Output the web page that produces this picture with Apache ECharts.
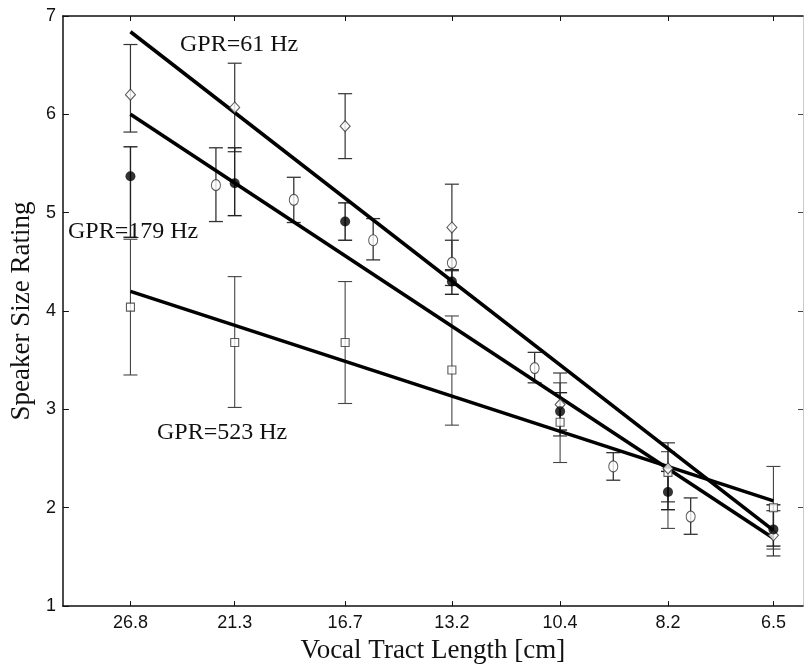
<!DOCTYPE html>
<html>
<head>
<meta charset="utf-8">
<script src="https://cdn.jsdelivr.net/npm/echarts@6/dist/echarts.min.js"></script>
<style>html,body{margin:0;padding:0;background:#fff}#c{width:804px;height:669px}</style>
</head>
<body>
<div id="c"></div>
<script>
// Tick positions / labels (vocal tract length, cm) — log-spaced axis
const vtlTicks = [26.8, 21.3, 16.7, 13.2, 10.4, 8.2, 6.5];
const vtlLabels = ['26.8', '21.3', '16.7', '13.2', '10.4', '8.2', '6.5'];
const vtlRange = [31.1, 6.09];
const yTicks = [1, 2, 3, 4, 5, 6, 7];

// GPR = 61 Hz (open diamonds)
const gpr61 = [6.20, 6.07, 5.88, 4.85, 3.05, 2.40, 1.72];
const gpr61Hi = [6.71, 6.52, 6.21, 5.29, 3.37, 2.66, 1.97];
const gpr61Lo = [5.82, 5.62, 5.55, 4.41, 2.73, 2.06, 1.51];
// GPR = 179 Hz (filled circles)
const gpr179 = [5.37, 5.30, 4.91, 4.30, 2.98, 2.16, 1.78];
const gpr179Hi = [5.67, 5.66, 5.10, 4.42, 3.17, 2.37, 2.03];
const gpr179Lo = [4.75, 4.97, 4.72, 4.17, 2.79, 1.98, 1.61];
// GPR = 523 Hz (open squares)
const gpr523 = [4.04, 3.68, 3.68, 3.40, 2.87, 2.36, 2.00];
const gpr523Hi = [4.73, 4.35, 4.30, 3.95, 3.27, 2.57, 2.42];
const gpr523Lo = [3.35, 3.02, 3.06, 2.84, 2.46, 1.79, 1.58];
// Intermediate conditions (open circles)
const vtlOther = [22.2, 18.7, 15.7, 13.2, 11.0, 9.25, 7.8];
const other = [5.28, 5.13, 4.72, 4.49, 3.42, 2.42, 1.91];
const otherHi = [5.66, 5.36, 4.94, 4.72, 3.58, 2.56, 2.10];
const otherLo = [4.91, 4.90, 4.52, 4.26, 3.27, 2.28, 1.73];

// Regression lines (endpoints)
const fitVtl = [26.8, 6.5];
const fit61 = [6.84, 1.77];
const fit179 = [6.00, 1.69];
const fit523 = [4.20, 2.07];

const L = Math.log;
const tickPos = vtlTicks.map(L);

function errSeries(xs, hi, lo, color, width) {
  return {
    type: 'custom',
    silent: true,
    z: 2,
    data: xs.map((v, i) => [L(v), hi[i], lo[i]]),
    renderItem: function (params, api) {
      const x = api.value(0);
      const top = api.coord([x, api.value(1)]);
      const bot = api.coord([x, api.value(2)]);
      const w = 7;
      const st = { stroke: color, lineWidth: width };
      return {
        type: 'group',
        children: [
          { type: 'line', shape: { x1: top[0], y1: top[1], x2: bot[0], y2: bot[1] }, style: st },
          { type: 'line', shape: { x1: top[0] - w, y1: top[1], x2: top[0] + w, y2: top[1] }, style: st },
          { type: 'line', shape: { x1: bot[0] - w, y1: bot[1], x2: bot[0] + w, y2: bot[1] }, style: st }
        ]
      };
    }
  };
}
function pts(xs, ys) { return xs.map((v, i) => [L(v), ys[i]]); }
function fitLine(ys) {
  return {
    type: 'line', z: 4, silent: true, symbol: 'none',
    data: pts(fitVtl, ys),
    lineStyle: { color: '#000', width: 3.6 }
  };
}

const serif = '"Liberation Serif", "Times New Roman", serif';
const sans = '"Liberation Sans", Arial, sans-serif';

const xAxisBase = {
  type: 'value', inverse: true,
  min: L(vtlRange[1]), max: L(vtlRange[0]),
  splitLine: { show: false },
  axisLine: { lineStyle: { color: '#111', width: 1.5 } },
  axisTick: { inside: true, length: 5, customValues: tickPos, lineStyle: { color: '#111', width: 1 } }
};

const chart = echarts.init(document.getElementById('c'), null, { renderer: 'canvas' });
chart.setOption({
  animation: false,
  backgroundColor: '#fff',
  grid: { left: 60, right: 1, top: 16, bottom: 62, containLabel: false },
  xAxis: [
    Object.assign({}, xAxisBase, {
      position: 'bottom',
      name: 'Vocal Tract Length [cm]', nameLocation: 'middle', nameGap: 25,
      nameTextStyle: { fontFamily: serif, fontSize: 27, color: '#111' },
      axisLabel: {
        customValues: tickPos, margin: 8,
        fontFamily: sans, fontSize: 18, color: '#111',
        formatter: function (v) {
          const i = tickPos.findIndex(t => Math.abs(t - v) < 1e-6);
          return i >= 0 ? vtlLabels[i] : '';
        }
      }
    }),
    Object.assign({}, xAxisBase, { position: 'top', axisLabel: { show: false } })
  ],
  yAxis: [
    {
      type: 'value', min: yTicks[0], max: yTicks[yTicks.length - 1], interval: 1,
      position: 'left',
      name: 'Speaker Size Rating', nameLocation: 'middle', nameGap: 23,
      nameTextStyle: { fontFamily: serif, fontSize: 27, color: '#111' },
      splitLine: { show: false },
      axisLine: { lineStyle: { color: '#111', width: 1.5 } },
      axisTick: { inside: true, length: 6, lineStyle: { color: '#111' } },
      axisLabel: { margin: 7, fontFamily: sans, fontSize: 18, color: '#111' }
    },
    {
      type: 'value', min: yTicks[0], max: yTicks[yTicks.length - 1], interval: 1,
      position: 'right',
      splitLine: { show: false },
      axisLine: { lineStyle: { color: '#ccc', width: 1 } },
      axisTick: { inside: true, length: 5, lineStyle: { color: '#444' } },
      axisLabel: { show: false }
    }
  ],
  series: [
    errSeries(vtlTicks, gpr523Hi, gpr523Lo, '#444', 1.1),
    errSeries(vtlTicks, gpr61Hi, gpr61Lo, '#333', 1.2),
    errSeries(vtlOther, otherHi, otherLo, '#333', 1.3),
    errSeries(vtlTicks, gpr179Hi, gpr179Lo, '#222', 1.4),
    fitLine(fit61), fitLine(fit179), fitLine(fit523),
    { type: 'scatter', z: 5, silent: true, data: pts(vtlTicks, gpr523), symbol: 'rect', symbolSize: 8,
      itemStyle: { color: '#fff', borderColor: '#333', borderWidth: 1.1 } },
    { type: 'scatter', z: 5, silent: true, data: pts(vtlTicks, gpr61), symbol: 'diamond', symbolSize: [10, 11],
      itemStyle: { color: '#fff', borderColor: '#333', borderWidth: 1.1 } },
    { type: 'scatter', z: 5, silent: true, data: pts(vtlOther, other), symbol: 'circle', symbolSize: [9, 11],
      itemStyle: { color: '#fff', borderColor: '#333', borderWidth: 1.1 } },
    { type: 'scatter', z: 6, silent: true, data: pts(vtlTicks, gpr179), symbol: 'circle', symbolSize: 10,
      itemStyle: { color: '#000' } }
  ],
  graphic: [
    { type: 'text', z: 10, style: { x: 180, y: 45, text: 'GPR=61 Hz', verticalAlign: 'middle', font: '24px ' + serif, fill: '#111' } },
    { type: 'text', z: 10, style: { x: 68, y: 232, text: 'GPR=179 Hz', verticalAlign: 'middle', font: '24px ' + serif, fill: '#111' } },
    { type: 'text', z: 10, style: { x: 157, y: 433, text: 'GPR=523 Hz', verticalAlign: 'middle', font: '24px ' + serif, fill: '#111' } }
  ]
});
</script>
</body>
</html>
